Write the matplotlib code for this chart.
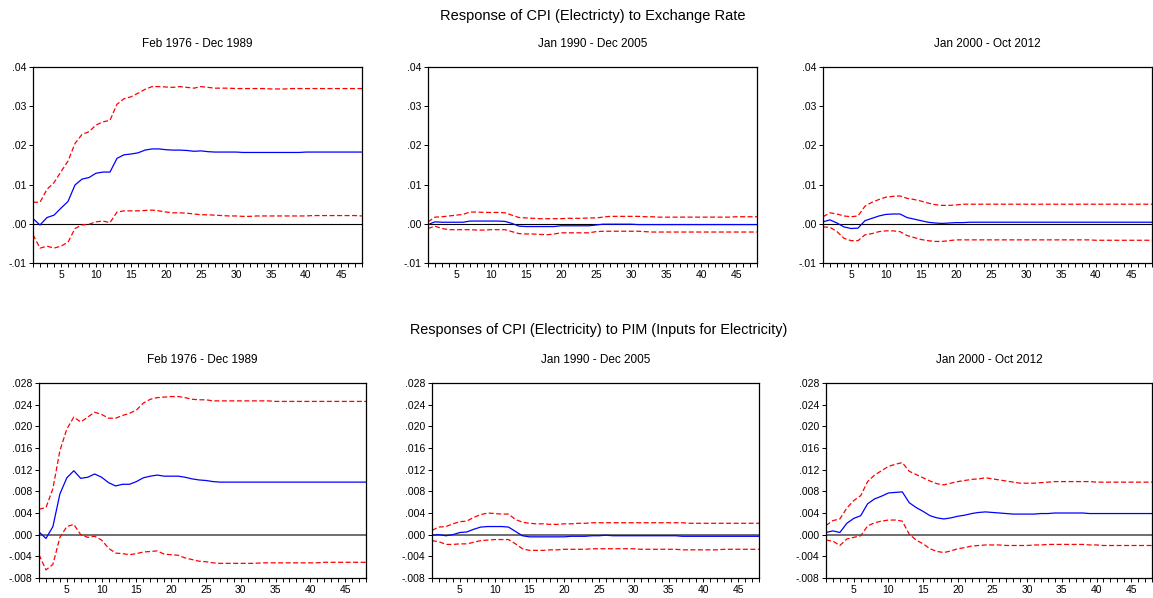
import matplotlib
matplotlib.use('Agg')
import matplotlib.pyplot as plt
from matplotlib.ticker import FuncFormatter, MultipleLocator

plt.rcParams['font.family'] = ['Liberation Sans', 'DejaVu Sans']

horizon = list(range(1, 49))

title_top = "Response of CPI (Electricty) to Exchange Rate"
title_bottom = "Responses of CPI (Electricity) to PIM (Inputs for Electricity)"
periods = ["Feb 1976 - Dec 1989", "Jan 1990 - Dec 2005", "Jan 2000 - Oct 2012"]

# Exchange rate shock, Feb 1976 - Dec 1989
er1_resp = [.0013, -.0003, .0016, .0022, .0040, .0057, .0099, .0114, .0118, .0129, .0132, .0132,
            .0167, .0176, .0178, .0181, .0188, .0191, .0191, .0189, .0188, .0188, .0187, .0185,
            .0186, .0184, .0183, .0183, .0183, .0183, .0182, .0182, .0182, .0182, .0182, .0182,
            .0182, .0182, .0182, .0183, .0183, .0183, .0183, .0183, .0183, .0183, .0183, .0183]
er1_up = [.0055, .0055, .0088, .0105, .0133, .0160, .0205, .0228, .0235, .0252, .0260, .0264,
          .0305, .0319, .0324, .0333, .0343, .0350, .0350, .0349, .0348, .0350, .0348, .0346,
          .0350, .0348, .0346, .0346, .0346, .0345, .0345, .0345, .0345, .0345, .0344, .0344,
          .0344, .0345, .0345, .0345, .0345, .0345, .0345, .0345, .0345, .0345, .0345, .0345]
er1_lo = [-.0028, -.0062, -.0057, -.0062, -.0057, -.0047, -.0012, -.0003, -.0001, .0005, .0007, .0003,
          .0030, .0033, .0033, .0033, .0034, .0035, .0033, .0030, .0028, .0028, .0027, .0025,
          .0023, .0023, .0022, .0021, .0020, .0020, .0019, .0019, .0020, .0020, .0020, .0020,
          .0020, .0020, .0020, .0020, .0021, .0021, .0021, .0021, .0021, .0021, .0021, .0020]

# Exchange rate shock, Jan 1990 - Dec 2005
er2_resp = [-.0002, .0005, .0004, .0004, .0004, .0004, .0007, .0007, .0007, .0007, .0007, .0006,
            .0001, -.0006, -.0007, -.0007, -.0007, -.0007, -.0007, -.0005, -.0005, -.0005, -.0005, -.0005,
            -.0003, -.0001, -.0001, -.0001, -.0001, -.0001, -.0002, -.0002, -.0002, -.0002, -.0002, -.0002,
            -.0002, -.0002, -.0002, -.0002, -.0002, -.0002, -.0002, -.0002, -.0002, -.0002, -.0002, -.0002]
er2_up = [.0005, .0017, .0018, .0020, .0022, .0024, .0030, .0030, .0029, .0029, .0029, .0028,
          .0022, .0016, .0015, .0014, .0013, .0013, .0013, .0013, .0014, .0014, .0014, .0015,
          .0015, .0017, .0019, .0019, .0019, .0019, .0019, .0018, .0018, .0017, .0017, .0017,
          .0017, .0017, .0017, .0017, .0017, .0017, .0017, .0017, .0018, .0018, .0018, .0018]
er2_lo = [-.0012, -.0006, -.0012, -.0015, -.0015, -.0015, -.0015, -.0016, -.0016, -.0015, -.0015, -.0015,
          -.0020, -.0025, -.0026, -.0026, -.0027, -.0028, -.0026, -.0023, -.0023, -.0023, -.0023, -.0023,
          -.0020, -.0019, -.0019, -.0019, -.0019, -.0019, -.0019, -.0020, -.0021, -.0021, -.0021, -.0021,
          -.0021, -.0021, -.0021, -.0021, -.0021, -.0021, -.0021, -.0021, -.0021, -.0021, -.0021, -.0021]

# Exchange rate shock, Jan 2000 - Oct 2012
er3_resp = [.0005, .0010, .0002, -.0008, -.0012, -.0011, .0008, .0014, .0020, .0024, .0025, .0025,
            .0016, .0012, .0008, .0004, .0002, .0001, .0002, .0003, .0003, .0004, .0004, .0004,
            .0004, .0004, .0004, .0004, .0004, .0004, .0004, .0004, .0004, .0004, .0004, .0004,
            .0004, .0004, .0004, .0004, .0004, .0004, .0004, .0004, .0004, .0004, .0004, .0004]
er3_up = [.0018, .0028, .0025, .0020, .0018, .0020, .0045, .0055, .0062, .0068, .0070, .0071,
          .0065, .0062, .0058, .0053, .0049, .0047, .0047, .0048, .0050, .0050, .0050, .0050,
          .0050, .0050, .0050, .0050, .0050, .0050, .0050, .0050, .0050, .0050, .0050, .0050,
          .0050, .0050, .0050, .0050, .0050, .0050, .0050, .0050, .0050, .0050, .0050, .0050]
er3_lo = [-.0008, -.0009, -.0020, -.0037, -.0043, -.0043, -.0028, -.0025, -.0020, -.0018, -.0018, -.0020,
          -.0030, -.0035, -.0040, -.0043, -.0045, -.0045, -.0043, -.0041, -.0041, -.0041, -.0041, -.0041,
          -.0041, -.0041, -.0041, -.0041, -.0041, -.0041, -.0041, -.0041, -.0041, -.0041, -.0041, -.0041,
          -.0041, -.0041, -.0041, -.0042, -.0042, -.0042, -.0042, -.0042, -.0042, -.0042, -.0042, -.0042]

# PIM shock, Feb 1976 - Dec 1989
pim1_resp = [.0005, -.0007, .0015, .0075, .0105, .0118, .0104, .0106, .0112, .0106, .0096, .0090,
             .0093, .0093, .0098, .0105, .0108, .0110, .0108, .0108, .0108, .0106, .0103, .0101,
             .0100, .0098, .0097, .0097, .0097, .0097, .0097, .0097, .0097, .0097, .0097, .0097,
             .0097, .0097, .0097, .0097, .0097, .0097, .0097, .0097, .0097, .0097, .0097, .0097]
pim1_up = [.0047, .0050, .0085, .0155, .0195, .0217, .0208, .0217, .0226, .0222, .0215, .0215,
           .0220, .0224, .0230, .0243, .0250, .0253, .0254, .0255, .0255, .0253, .0250, .0249,
           .0249, .0247, .0247, .0247, .0247, .0247, .0247, .0247, .0247, .0247, .0246, .0246,
           .0246, .0246, .0246, .0246, .0246, .0246, .0246, .0246, .0246, .0246, .0246, .0246]
pim1_lo = [-.0037, -.0065, -.0055, -.0005, .0015, .0019, .0000, -.0005, -.0003, -.0010, -.0025, -.0034,
           -.0035, -.0037, -.0035, -.0032, -.0031, -.0030, -.0036, -.0037, -.0038, -.0043, -.0046, -.0049,
           -.0050, -.0052, -.0053, -.0053, -.0053, -.0053, -.0053, -.0053, -.0052, -.0052, -.0052, -.0052,
           -.0052, -.0052, -.0052, -.0052, -.0052, -.0051, -.0051, -.0051, -.0051, -.0051, -.0051, -.0051]

# PIM shock, Jan 1990 - Dec 2005
pim2_resp = [-.0001, .0000, -.0002, .0000, .0004, .0005, .0010, .0014, .0015, .0015, .0015, .0014,
             .0006, -.0002, -.0004, -.0004, -.0004, -.0004, -.0004, -.0004, -.0003, -.0003, -.0003, -.0002,
             -.0002, -.0001, -.0002, -.0002, -.0002, -.0002, -.0002, -.0002, -.0002, -.0002, -.0002, -.0002,
             -.0003, -.0003, -.0003, -.0003, -.0003, -.0003, -.0003, -.0003, -.0003, -.0003, -.0003, -.0003]
pim2_up = [.0008, .0014, .0015, .0020, .0024, .0025, .0032, .0037, .0040, .0039, .0038, .0038,
           .0028, .0023, .0021, .0020, .0020, .0019, .0019, .0020, .0020, .0021, .0021, .0022,
           .0022, .0022, .0022, .0022, .0022, .0022, .0022, .0022, .0022, .0022, .0022, .0022,
           .0022, .0021, .0021, .0021, .0021, .0021, .0021, .0021, .0021, .0021, .0021, .0021]
pim2_lo = [-.0011, -.0013, -.0018, -.0018, -.0017, -.0017, -.0014, -.0011, -.0010, -.0009, -.0009, -.0009,
           -.0017, -.0026, -.0029, -.0029, -.0029, -.0028, -.0028, -.0027, -.0027, -.0027, -.0027, -.0026,
           -.0026, -.0026, -.0026, -.0026, -.0026, -.0026, -.0027, -.0027, -.0027, -.0027, -.0027, -.0027,
           -.0028, -.0028, -.0028, -.0028, -.0028, -.0028, -.0027, -.0027, -.0027, -.0027, -.0027, -.0027]

# PIM shock, Jan 2000 - Oct 2012
pim3_resp = [.0004, .0007, .0004, .0021, .0030, .0035, .0057, .0066, .0071, .0077, .0078, .0079,
             .0059, .0050, .0043, .0035, .0031, .0029, .0031, .0034, .0036, .0039, .0041, .0042,
             .0041, .0040, .0039, .0038, .0038, .0038, .0038, .0039, .0039, .0040, .0040, .0040,
             .0040, .0040, .0039, .0039, .0039, .0039, .0039, .0039, .0039, .0039, .0039, .0039]
pim3_up = [.0017, .0026, .0029, .0049, .0063, .0072, .0098, .0110, .0118, .0126, .0130, .0133,
           .0117, .0111, .0105, .0099, .0094, .0092, .0095, .0098, .0100, .0102, .0103, .0105,
           .0103, .0101, .0099, .0097, .0095, .0095, .0095, .0096, .0097, .0098, .0098, .0098,
           .0098, .0098, .0098, .0097, .0097, .0097, .0097, .0097, .0097, .0097, .0097, .0097]
pim3_lo = [-.0010, -.0012, -.0020, -.0008, -.0005, -.0002, .0016, .0022, .0025, .0027, .0027, .0025,
           .0001, -.0010, -.0017, -.0026, -.0031, -.0033, -.0030, -.0026, -.0024, -.0021, -.0020, -.0019,
           -.0019, -.0019, -.0020, -.0020, -.0020, -.0020, -.0019, -.0019, -.0018, -.0018, -.0018, -.0018,
           -.0018, -.0018, -.0019, -.0019, -.0020, -.0020, -.0020, -.0020, -.0020, -.0020, -.0020, -.0020]

W, H = 1153, 598


def make_formatter(decimals):
    # EViews style labels: no leading zero, ".04", "-.01"
    def f(v, pos):
        s = f"{abs(v):.{decimals}f}".lstrip("0")
        if round(v, decimals + 2) < 0:
            s = "-" + s
        return s
    return FuncFormatter(f)


def panel(box, resp, up, lo, sub, ylim, ystep, decimals, zero_color, zero_lw):
    l, t, r, b = box
    ax = fig.add_axes([l / W, 1 - b / H, (r - l) / W, (b - t) / H])
    ax.plot(horizon, up, color='red', ls=(0, (4, 2)), lw=0.9)
    ax.plot(horizon, lo, color='red', ls=(0, (4, 2)), lw=0.9)
    ax.plot(horizon, resp, color='blue', lw=0.9)
    ax.axhline(0, color=zero_color, lw=zero_lw, zorder=1)
    ax.set_xlim(1, 48)
    ax.set_ylim(*ylim)
    ax.yaxis.set_major_locator(MultipleLocator(ystep))
    ax.yaxis.set_major_formatter(make_formatter(decimals))
    ax.xaxis.set_major_locator(MultipleLocator(5))
    ax.xaxis.set_minor_locator(MultipleLocator(1))
    ax.tick_params(axis='both', which='both', direction='out', labelsize=7.5,
                   length=3, width=0.7, colors='black', pad=2)
    for sp in ax.spines.values():
        sp.set_linewidth(0.9)
    fig.text((l + r) / 2 / W, 1 - (t - 23) / H, sub, ha='center', va='center', fontsize=8.5)
    return ax


fig = plt.figure(figsize=(W / 100, H / 100), dpi=100)

top_boxes = [(33, 67, 362, 263), (428, 67, 757, 263), (823, 67, 1152, 263)]
bot_boxes = [(39, 383, 366, 578), (432, 383, 759, 578), (826, 383, 1152, 578)]

top_data = [(er1_resp, er1_up, er1_lo), (er2_resp, er2_up, er2_lo), (er3_resp, er3_up, er3_lo)]
bot_data = [(pim1_resp, pim1_up, pim1_lo), (pim2_resp, pim2_up, pim2_lo), (pim3_resp, pim3_up, pim3_lo)]

for box, (r_, u_, l_), sub in zip(top_boxes, top_data, periods):
    panel(box, r_, u_, l_, sub, (-0.01, 0.04), 0.01, 2, 'black', 0.8)

for box, (r_, u_, l_), sub in zip(bot_boxes, bot_data, periods):
    panel(box, r_, u_, l_, sub, (-0.008, 0.028), 0.004, 3, '#555555', 1.2)

fig.text(593 / W, 1 - 16 / H, title_top, ha='center', va='center', fontsize=10.5)
fig.text(599 / W, 1 - 330 / H, title_bottom, ha='center', va='center', fontsize=10.4)

fig.savefig('out.png', dpi=100)
